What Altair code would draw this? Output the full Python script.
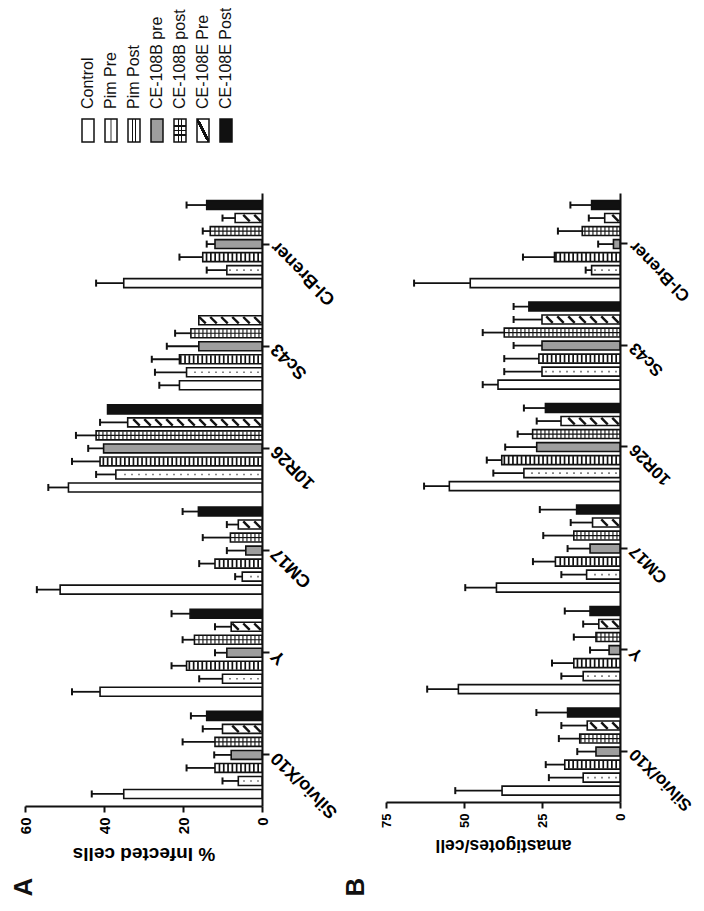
import altair as alt
import pandas as pd

# ---------------- data ----------------
strains = ["Silvio/X10", "Y", "CM17", "10R26", "Sc43", "Cl-Brener"]
series = ["Control", "Pim Pre", "Pim Post", "CE-108B pre", "CE-108B post",
          "CE-108E Pre", "CE-108E Post"]

# Panel A: % infected cells (means per strain, then SD)
a_control = [35.0, 41.0, 51.1, 49.0, 20.9, 35.0]
a_control_sd = [8.1, 7.1, 5.9, 5.1, 5.1, 7.0]
a_pim_pre = [6.0, 10.0, 5.0, 37.0, 19.1, 8.9]
a_pim_pre_sd = [4.0, 5.9, 1.8, 5.0, 8.0, 5.1]
a_pim_post = [11.9, 19.1, 11.9, 41.0, 20.9, 15.0]
a_pim_post_sd = [7.2, 3.8, 4.0, 7.1, 7.0, 5.9]
a_b_pre = [7.8, 8.9, 4.1, 40.1, 16.0, 11.9]
a_b_pre_sd = [4.3, 3.0, 4.8, 3.9, 8.1, 2.1]
a_b_post = [11.9, 17.1, 8.0, 42.0, 18.0, 13.1]
a_b_post_sd = [8.2, 3.0, 7.0, 5.1, 4.0, 1.9]
a_e_pre = [10.0, 7.8, 6.0, 34.0, 16.0, 6.8]
a_e_pre_sd = [5.0, 4.1, 2.9, 7.0, None, 3.2]
a_e_post = [14.0, 18.2, 16.1, 39.1, None, 14.0]
a_e_post_sd = [4.0, 4.7, 4.0, None, None, 5.1]

# Panel B: amastigotes/cell
b_control = [37.8, 51.8, 39.6, 54.7, 39.1, 48.0]
b_control_sd = [15.0, 10.0, 10.0, 8.1, 4.9, 18.0]
b_pim_pre = [11.8, 11.8, 10.7, 30.8, 25.0, 9.1]
b_pim_pre_sd = [11.0, 7.0, 8.1, 9.8, 12.1, 1.9]
b_pim_post = [17.7, 14.8, 20.7, 37.9, 26.0, 21.0]
b_pim_post_sd = [6.1, 7.0, 7.2, 4.8, 11.1, 10.1]
b_b_pre = [7.7, 3.5, 9.6, 26.7, 25.0, 2.1]
b_b_pre_sd = [6.0, 6.1, 7.2, 10.1, 9.1, 4.9]
b_b_post = [12.9, 7.7, 14.8, 28.0, 37.1, 12.1]
b_b_post_sd = [6.7, 7.1, 9.8, 4.8, 6.9, 7.8]
b_e_pre = [10.5, 6.8, 8.8, 18.9, 25.0, 4.9]
b_e_pre_sd = [8.3, 5.0, 7.0, 7.8, 9.1, 5.1]
b_e_post = [16.8, 9.6, 13.9, 23.9, 29.2, 9.1]
b_e_post_sd = [10.0, 8.1, 11.8, 6.9, 4.9, 6.8]

a_ticks = [0, 20, 40, 60]
b_ticks = [0, 25, 50, 75]


def long_df(means, sds):
    rows = []
    for s, ms, ss in zip(series, means, sds):
        for st, m, sd in zip(strains, ms, ss):
            if m is None:
                continue
            rows.append({"strain": st, "series": s, "mean": m,
                         "top": (m + sd) if sd is not None else None})
    return pd.DataFrame(rows)


df_a = long_df([a_control, a_pim_pre, a_pim_post, a_b_pre, a_b_post, a_e_pre, a_e_post],
               [a_control_sd, a_pim_pre_sd, a_pim_post_sd, a_b_pre_sd, a_b_post_sd,
                a_e_pre_sd, a_e_post_sd])
df_b = long_df([b_control, b_pim_pre, b_pim_post, b_b_pre, b_b_post, b_e_pre, b_e_post],
               [b_control_sd, b_pim_pre_sd, b_pim_post_sd, b_b_pre_sd, b_b_post_sd,
                b_e_pre_sd, b_e_post_sd])

INK = "#111111"
dummy = pd.DataFrame({"k": [0]})


def grad(centers, half, color, x1=0, y1=0, x2=1, y2=0):
    clear = "rgba(255,255,255,0)"
    stops = [(0, clear)]
    for c in centers:
        stops += [(c - half, clear), (c - half, color), (c + half, color), (c + half, clear)]
    stops.append((1, clear))
    return alt.LinearGradient(gradient="linear", x1=x1, y1=y1, x2=x2, y2=y2,
                              stops=[alt.GradientStop(offset=o, color=c) for o, c in stops])


def panel(df, vmax, ticks, W, H, title, letter, gray, tick_fs, title_fs, title_y,
          letter_x, cat_fs, with_legend):
    ppu = W / vmax
    color_scale = alt.Scale(domain=series,
                            range=["white", "white", "white", gray, "white", "white", INK])
    ysc = alt.Scale(domain=strains[::-1], paddingInner=0, paddingOuter=0)
    yosc = alt.Scale(domain=series[::-1], paddingInner=0.31, paddingOuter=0.58)
    xsc = alt.Scale(domain=[0, vmax], reverse=True, nice=False, zero=True)
    xaxis = alt.Axis(values=ticks, orient="bottom", title=title, grid=False,
                     labelAngle=270, labelAlign="right", labelBaseline="middle",
                     labelFontSize=tick_fs, labelFontWeight="bold", labelColor="black",
                     labelPadding=5, tickSize=6, tickWidth=2, tickColor=INK,
                     domainWidth=2, domainColor=INK,
                     titleAngle=180, titleFontSize=title_fs, titleFontWeight="bold",
                     titleColor="black", titleX=W / 2, titleY=title_y,
                     titleAlign="center", titleBaseline="middle")
    yaxis = alt.Axis(orient="right", title=None, labelAngle=225, labelAlign="right",
                     labelBaseline="middle", labelFontSize=cat_fs, labelFontWeight="bold",
                     labelColor="black", labelPadding=5, tickSize=7, tickWidth=2,
                     tickColor=INK, domainWidth=2, domainColor=INK,
                     labelOverlap=False, labelBound=False, labelLimit=0)

    def X(f):
        return alt.X(f"{f}:Q", scale=xsc, axis=xaxis, stack=None, title=title)

    Y = alt.Y("strain:N", scale=ysc, axis=yaxis)
    YO = alt.YOffset("series:N", scale=yosc)
    base = alt.Chart(df)

    def seq_layer(name, start_px, end_px, step_px):
        return base.transform_filter(alt.datum.series == name).transform_calculate(
            seq=f"sequence({start_px / ppu:.4f}, datum.mean - {end_px / ppu:.4f}, {step_px / ppu:.4f})"
        ).transform_flatten(["seq"])

    fill = base.mark_bar(strokeWidth=0).encode(
        x=X("mean"), y=Y, yOffset=YO,
        color=alt.Color("series:N", scale=color_scale, legend=None))
    pim_pre = seq_layer("Pim Pre", 4, 2.5, 7).mark_square(
        size=2.5, color="#666666", opacity=1).encode(x=X("seq"), y=Y, yOffset=YO)
    pim_post = seq_layer("Pim Post", 3, 2, 4.3).transform_calculate(
        seq2=f"datum.seq + {1.7 / ppu:.4f}").mark_bar(color=INK, height=8).encode(
        x=X("seq"), x2=alt.X2("seq2"), y=Y, yOffset=YO)
    b_post_v = seq_layer("CE-108B post", 2.5, 1.5, 4.0).transform_calculate(
        seq2=f"datum.seq + {1.1 / ppu:.4f}").mark_bar(color=INK, height=8).encode(
        x=X("seq"), x2=alt.X2("seq2"), y=Y, yOffset=YO)
    b_post_h = base.transform_filter(alt.datum.series == "CE-108B post").mark_bar(
        color=INK, height=1.2).encode(x=X("mean"), y=Y, yOffset=YO)
    e_pre = seq_layer("CE-108E Pre", 4.5, 3.5, 11).mark_point(
        shape="M-1,-1L1,1", size=42, filled=False, color=INK, strokeWidth=2.4,
        opacity=1, strokeCap="butt").encode(x=X("seq"), y=Y, yOffset=YO)
    outline = base.mark_bar(fillOpacity=0, stroke=INK, strokeWidth=1.6).encode(
        x=X("mean"), y=Y, yOffset=YO)
    err = base.transform_filter("isValid(datum.top)").mark_bar(
        color=INK, height=1.8).encode(x=X("mean"), x2=alt.X2("top"), y=Y, yOffset=YO)
    cap = base.transform_filter("isValid(datum.top)").transform_calculate(
        c1=f"datum.top - {1 / ppu:.4f}", c2=f"datum.top + {1 / ppu:.4f}").mark_bar(
        color=INK, height=7).encode(x=X("c1"), x2=alt.X2("c2"), y=Y, yOffset=YO)
    letter_mark = alt.Chart(dummy).mark_text(
        text=letter, angle=270, fontSize=26, fontWeight="bold", align="center",
        baseline="middle", color=INK).encode(x=alt.value(letter_x), y=alt.value(694))

    layers = [fill, pim_pre, pim_post, b_post_v, b_post_h, e_pre, outline, err, cap,
              letter_mark]
    if with_legend:
        anchor = alt.Chart(dummy).mark_square(size=1, opacity=0).encode(
            x=alt.value(-24), y=alt.value(-192))
        layers.append(anchor)
    inner = alt.layer(*layers)

    if not with_legend:
        return inner.properties(width=W, height=H)

    leg = alt.Chart(pd.DataFrame({"series": series}))
    LX = alt.X("series:N", scale=alt.Scale(domain=series, range=[51.5, 212.5],
                                           paddingInner=0, paddingOuter=0), axis=None)
    ly = dict(y=alt.value(-74), y2=alt.value(-51))
    sym = leg.mark_bar(width=12, strokeWidth=0).encode(
        x=LX, color=alt.Color("series:N", scale=color_scale, legend=None), **ly)
    g_pre = leg.transform_filter(alt.datum.series == "Pim Pre").mark_bar(
        width=12, color=grad([0.5], 0.07, "#999999")).encode(x=LX, **ly)
    g_post = leg.transform_filter(alt.datum.series == "Pim Post").mark_bar(
        width=12, color=grad([0.36, 0.64], 0.05, INK)).encode(x=LX, **ly)
    g_bpv = leg.transform_filter(alt.datum.series == "CE-108B post").mark_bar(
        width=12, color=grad([0.36, 0.64], 0.05, INK)).encode(x=LX, **ly)
    g_bph = leg.transform_filter(alt.datum.series == "CE-108B post").mark_bar(
        width=12, color=grad([0.3, 0.5, 0.7], 0.03, INK, x2=0, y2=1)).encode(x=LX, **ly)
    g_epre = leg.transform_filter(alt.datum.series == "CE-108E Pre").mark_bar(
        width=12, color=grad([0.5], 0.07, INK, x1=0, y1=1, x2=1, y2=0)).encode(x=LX, **ly)
    sym_out = leg.mark_bar(width=12, fillOpacity=0, stroke=INK, strokeWidth=1.5).encode(
        x=LX, **ly)
    txt = leg.mark_text(angle=270, align="left", baseline="middle", fontSize=16,
                        color=INK).encode(x=LX, y=alt.value(-84), text="series:N")
    legend = alt.layer(sym, g_pre, g_post, g_bpv, g_bph, g_epre, sym_out, txt)
    return alt.layer(inner, legend).resolve_scale(x="independent").properties(
        width=W, height=H)


pa = panel(df_a, 60, a_ticks, 237, 613, "% Infected cells", "A", "#9e9e9e",
           15, 19, 47, -1, 18, True)
pb = panel(df_b, 75, b_ticks, 234, 609, "amastigotes/cell", "B", "#b0b0b0",
           13, 17.5, 42, -30, 17, False)

chart = alt.hconcat(pa, pb, spacing=124, bounds="flush").properties(
    padding={"left": -8, "top": -8, "right": 0, "bottom": 0}
).configure(
    font="Liberation Sans", background="white"
).configure_view(strokeWidth=0, stroke=None)

chart.save("out.html", embed_options={"renderer": "svg", "actions": False})
